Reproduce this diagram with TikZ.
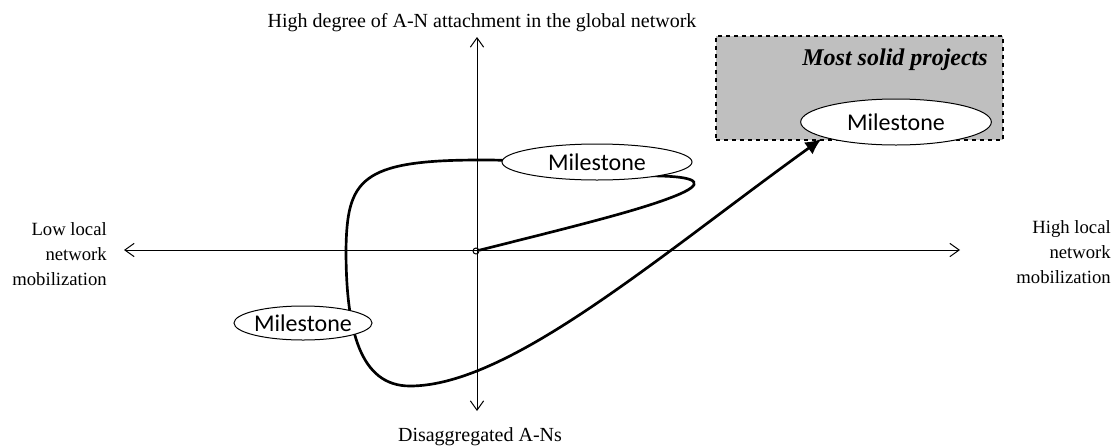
\documentclass[tikz,border=0pt]{standalone}
\usepackage{fontspec}
\setmainfont{Liberation Serif}
\newfontfamily\calibri{Carlito}
\usepackage{tikz}
\usetikzlibrary{arrows.meta, shapes, positioning}
\definecolor{boxgray}{RGB}{191,191,191}

\tikzset{
	axis/.style={line width=0.75pt, {Straight Barb[length=7pt,width=10pt]}-{Straight Barb[length=7pt,width=10pt]}},
	axislabel/.style={inner sep=0pt, font=\fontsize{15}{18.5}\selectfont},
	sidelabel/.style={axislabel, anchor=east, align=right, font=\fontsize{14}{18.5}\selectfont},
	milestone/.style={draw, ellipse, fill=white, inner sep=0pt, line width=0.75pt, font=\calibri\fontsize{18}{20}\selectfont},
	trajectory/.style={line width=2pt, -{Latex[length=12pt,width=11pt]}},
}

\begin{document}
\begin{tikzpicture}[x=0.75pt, y=-0.75pt]
	\useasboundingbox (0,0) rectangle (1120,447);

	%axes
	\coordinate (xleft)		at (124, 250);
	\coordinate (xright)	at (960, 250);
	\coordinate (ytop)		at (477, 37);
	\coordinate (ybottom)	at (477, 411);
	\draw[axis] (xleft) to (xright);
	\draw[axis] (ybottom) to (ytop);
	\node[draw, circle, inner sep=0pt, minimum size=4.5pt, line width=0.75pt] (origin) at (476, 251) {};

	\node[axislabel, anchor=base]	(global)	at (482, 27)	{High degree of A-N attachment in the global network};
	\node[axislabel, anchor=base]	(disagg)	at (480, 441)	{Disaggregated A-Ns};
	\node[sidelabel]	(lowlocal)	at (107, 254)	{Low local\\network\\mobilization};
	\node[sidelabel]	(highlocal)	at (1111, 252)	{High local\\network\\mobilization};

	%partie droite
	\node[draw, dashed, fill=boxgray, line width=1pt, minimum width=215.25pt, minimum height=78pt] (solidbox) at (859.5, 88) {};
	\node[anchor=base east, inner sep=0pt, font=\fontsize{18}{20}\selectfont\bfseries\itshape] (solidtitle) at (988, 65) {Most solid projects};
	\node[milestone, minimum width=143pt, minimum height=34.5pt] (mssolid) at (896, 122) {Milestone};

	%trajectory
	\draw[trajectory, shorten >=2pt] (origin) .. controls (580, 225) and (640, 210) .. (675, 196)
		.. controls (705, 184) and (700, 177) .. (660, 176)
		.. controls (620, 175) and (540, 159) .. (480, 160)
		.. controls (360, 160) and (347, 180) .. (346, 250)
		.. controls (346, 330) and (360, 386) .. (410, 386)
		.. controls (510, 386) and (660, 255) .. (mssolid.192);

	\node[milestone, minimum width=142.5pt, minimum height=27pt]	(msup)	at (597, 162)	{Milestone};
	\node[milestone, minimum width=100pt, minimum height=25.5pt]	(mslow)	at (303, 323)	{Milestone};

\end{tikzpicture}
\end{document}
